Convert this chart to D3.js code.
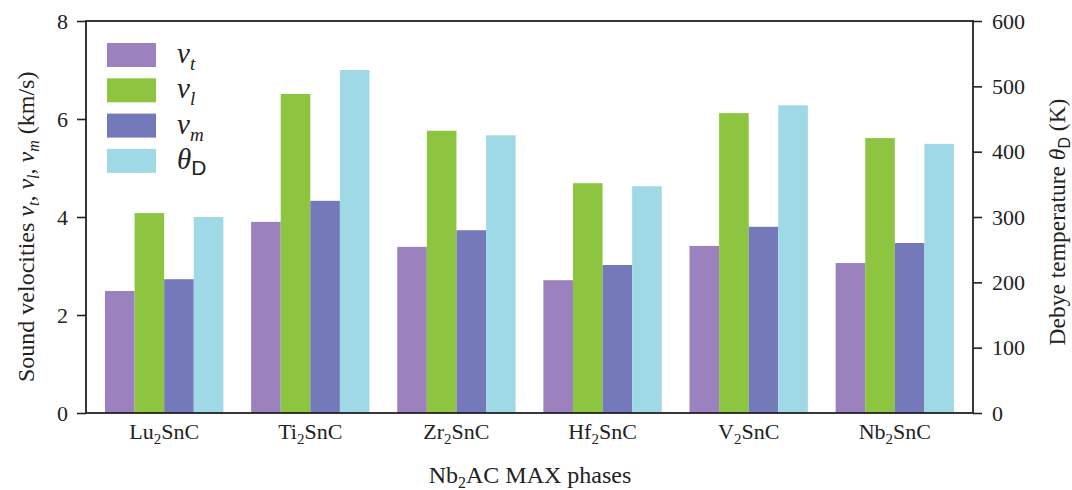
<!DOCTYPE html>
<html><head><meta charset="utf-8">
<script src="https://cdn.jsdelivr.net/npm/d3@7"></script>
<style>body{margin:0;background:#fff}svg{display:block}svg text{font-family:"Liberation Serif","Times New Roman",serif;fill:#222}</style>
</head><body><svg id="c" width="1072" height="490"></svg>
<script>
const categories = [["Lu","2","SnC"],["Ti","2","SnC"],["Zr","2","SnC"],["Hf","2","SnC"],["V","2","SnC"],["Nb","2","SnC"]];
const vt = [2.49, 3.90, 3.39, 2.71, 3.41, 3.06];
const vl = [4.08, 6.51, 5.76, 4.69, 6.12, 5.61];
const vm = [2.73, 4.33, 3.73, 3.02, 3.80, 3.47];
const thetaD = [300, 525, 425, 347, 471, 412];
const leftTicks = [0, 2, 4, 6, 8];
const rightTicks = [0, 100, 200, 300, 400, 500, 600];
const seriesKeys = ["vt", "vl", "vm", "theta"];
const colors = ["#9b81bd", "#8dc540", "#7479b9", "#9fd9e6"];

const SERIF = '"Liberation Serif","Times New Roman",serif';
const SANS = '"Liberation Sans",Arial,sans-serif';
const svg = d3.select("#c");
const L = 86, R = 973, T = 21, B = 413;
const x0 = d3.scaleBand().domain(d3.range(categories.length)).range([L, R]).paddingInner(0.19).paddingOuter(0.13);
const x1 = d3.scaleBand().domain(seriesKeys).range([0, x0.bandwidth()]);
const yL = d3.scaleLinear().domain([0, 8]).range([B, T]);
const yR = d3.scaleLinear().domain([0, 600]).range([B, T]);

const rows = categories.map((c, i) => [
  {k: "vt", v: vt[i], s: yL}, {k: "vl", v: vl[i], s: yL}, {k: "vm", v: vm[i], s: yL}, {k: "theta", v: thetaD[i], s: yR}
]);
const g = svg.append("g");
rows.forEach((r, i) => {
  g.selectAll(null).data(r).enter().append("rect")
    .attr("x", d => x0(i) + x1(d.k))
    .attr("width", x1.bandwidth())
    .attr("y", d => d.s(d.v))
    .attr("height", d => B - d.s(d.v))
    .attr("fill", (d, j) => colors[j]);
});

// axes
const ax = svg.append("g").attr("transform", `translate(${L},0)`)
  .call(d3.axisLeft(yL).tickValues(leftTicks).tickSize(9).tickPadding(9).tickFormat(d3.format("d")));
const axR = svg.append("g").attr("transform", `translate(${R},0)`)
  .call(d3.axisRight(yR).tickValues(rightTicks).tickSize(9).tickPadding(10).tickFormat(d3.format("d")));
[ax, axR].forEach(a => {
  a.attr("font-family", null).attr("font-size", null);
  a.select(".domain").remove();
  a.selectAll("line").attr("stroke", "#222").attr("stroke-width", 1.6);
  a.selectAll("text").style("font-family", SERIF).style("font-size", "22px").attr("fill", "#222");
});
svg.append("rect").attr("x", L).attr("y", T).attr("width", R - L).attr("height", B - T)
  .attr("fill", "none").attr("stroke", "#222").attr("stroke-width", 1.8);

// x labels
categories.forEach((c, i) => {
  const t = svg.append("text").attr("x", x0(i) + x0.bandwidth() / 2).attr("y", 439)
    .attr("text-anchor", "middle").style("font-size", "22px");
  t.append("tspan").text(c[0]);
  t.append("tspan").style("font-size", "15px").attr("dy", 5).text(c[1]);
  t.append("tspan").attr("dy", -5).text(c[2]);
});

// x title
const xt = svg.append("text").attr("x", 530).attr("y", 483).attr("text-anchor", "middle").style("font-size", "24px");
xt.append("tspan").text("Nb");
xt.append("tspan").style("font-size", "16px").attr("dy", 5).text("2");
xt.append("tspan").attr("dy", -5).text("AC MAX phases");

// left y title
const yt = svg.append("text").attr("transform", "translate(34,382) rotate(-90)").attr("text-anchor", "start").style("font-size", "24px");
yt.append("tspan").text("Sound velocities ");
[["t", ", "], ["l", ", "], ["m", " (km/s)"]].forEach(([s, after]) => {
  yt.append("tspan").style("font-style", "italic").text("v");
  yt.append("tspan").style("font-style", "italic").style("font-size", "16px").attr("dy", 5).text(s);
  yt.append("tspan").attr("dy", -5).text(after);
});

// right y title
const rt = svg.append("text").attr("transform", "translate(1065,222) rotate(-90)").attr("text-anchor", "middle").style("font-size", "23.5px");
rt.append("tspan").text("Debye temperature ");
rt.append("tspan").style("font-style", "italic").text("θ");
rt.append("tspan").style("font-size", "16px").attr("dy", 5).style("font-family", SANS).text("D");
rt.append("tspan").attr("dy", -5).text(" (K)");

// legend
const legendSubs = ["t", "l", "m", "D"];
const lg = svg.append("g");
legendSubs.forEach((s, i) => {
  const yy = 43 + i * 35.3;
  lg.append("rect").attr("x", 107).attr("y", yy).attr("width", 49).attr("height", 24).attr("fill", colors[i]);
  const t = lg.append("text").attr("x", 177).attr("y", yy + 20).style("font-size", "29px");
  if (i < 3) {
    t.append("tspan").style("font-style", "italic").text("v");
    t.append("tspan").style("font-style", "italic").style("font-size", "19px").attr("dy", 7).text(s);
  } else {
    t.append("tspan").style("font-style", "italic").text("θ");
    t.append("tspan").style("font-size", "21px").attr("dy", 6).style("font-family", SANS).text(s);
  }
});
</script></body></html>
